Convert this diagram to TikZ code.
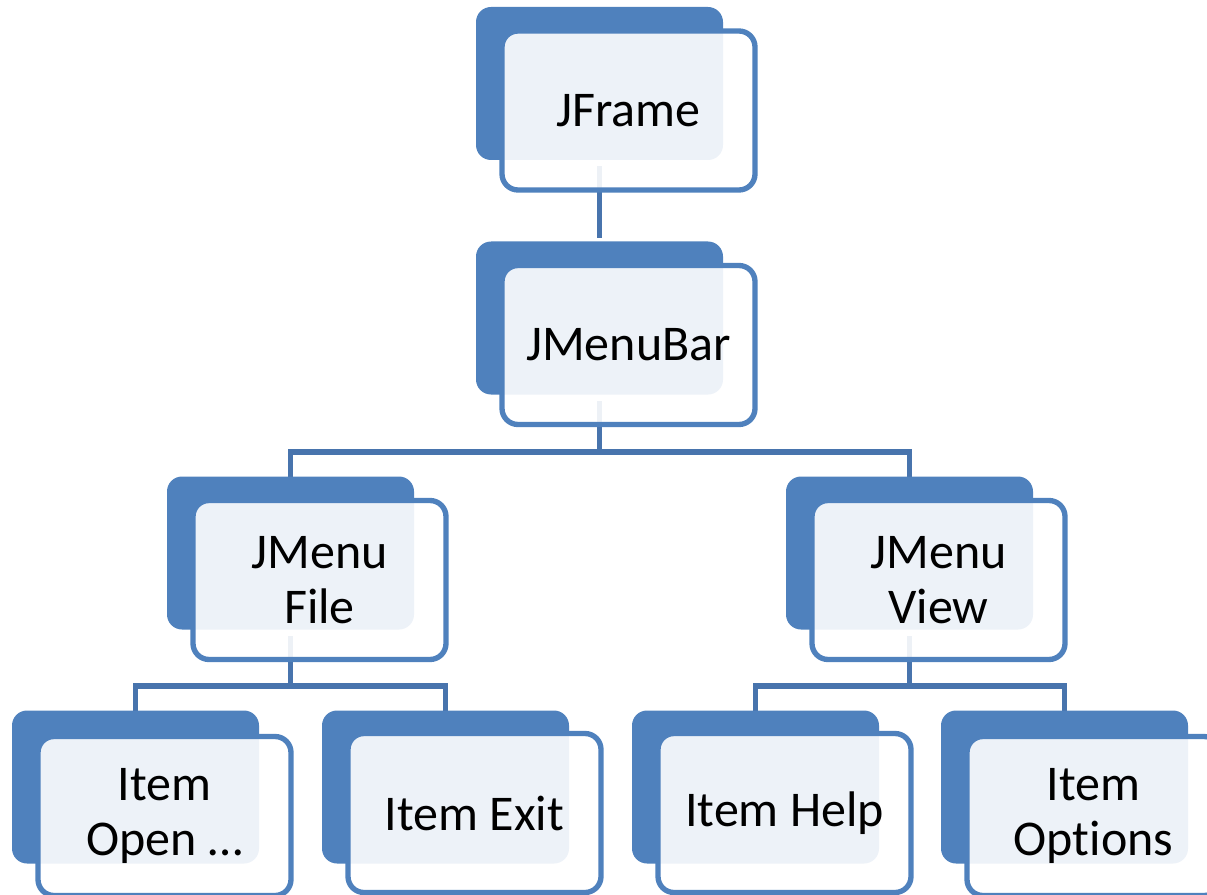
\documentclass[tikz,border=0pt]{standalone}
\usepackage{fontspec}
\setmainfont{Carlito}[Ligatures=NoCommon]
\usetikzlibrary{backgrounds}
\definecolor{accent}{HTML}{4F81BD}
\definecolor{conn}{HTML}{4874AD}
\tikzset{
  backbox/.style={rectangle, rounded corners=15*0.75pt, fill=accent, draw=none,
    minimum width=247*0.75pt, minimum height=153*0.75pt, inner sep=0pt},
  frontbox/.style={rectangle, rounded corners=16*0.75pt, draw=accent, line width=4pt,
    fill=white, fill opacity=0.9, text opacity=1,
    minimum width=253*0.75pt, minimum height=159*0.75pt, inner sep=0pt,
    align=center, font=\fontsize{37.5pt}{41.5pt}\selectfont},
  link/.style={draw=conn, line width=4pt}
}
\begin{document}
\begin{tikzpicture}[x=0.75pt,y=-0.75pt]
\useasboundingbox (0,0) rectangle (1207,895);
\clip (0,0) rectangle (1207,895);
% back rectangles
\node[backbox] (frameB) at (599.5,83.5) {};
\node[backbox] (barB) at (599.5,318) {};
\node[backbox] (fileB) at (290.5,553) {};
\node[backbox] (viewB) at (909.5,553) {};
\node[backbox] (openB) at (135.5,787) {};
\node[backbox] (exitB) at (445.5,787) {};
\node[backbox] (helpB) at (755.5,787) {};
\node[backbox] (optB) at (1064.5,787) {};
% front rectangles
\node[frontbox] (frame) at (628.5,110.5) {JFrame};
\node[frontbox] (bar) at (628.5,345) {JMenuBar};
\node[frontbox] (file) at (319.5,580) {JMenu\\File};
\node[frontbox] (view) at (938.5,580) {JMenu\\View};
\node[frontbox] (open) at (164.5,816) {Item\\Open …};
\node[frontbox] (exit) at (474.5,813) {Item Exit};
\node[frontbox] (help) at (784.5,813) {Item Help};
\node[frontbox] (opt) at (1093.5,816) {Item\\Options};
% junctions
\coordinate (j1) at (599.5,452);
\coordinate (j2) at (290.5,686);
\coordinate (j3) at (909.5,686);
\begin{scope}[on background layer]
\draw[link, shorten <=6*0.75pt, shorten >=3*0.75pt] (frameB.south) -- (barB.north);
\draw[link, shorten <=6*0.75pt] (barB.south) -- (j1);
\draw[link] ([yshift=-1]fileB.north) |- (j1) -| ([yshift=-1]viewB.north);
\draw[link, shorten <=6*0.75pt] (fileB.south) -- (j2);
\draw[link] ([yshift=-1]openB.north) |- (j2) -| ([yshift=-1]exitB.north);
\draw[link, shorten <=6*0.75pt] (viewB.south) -- (j3);
\draw[link] ([yshift=-1]helpB.north) |- (j3) -| ([yshift=-1]optB.north);
\end{scope}
\end{tikzpicture}
\end{document}
